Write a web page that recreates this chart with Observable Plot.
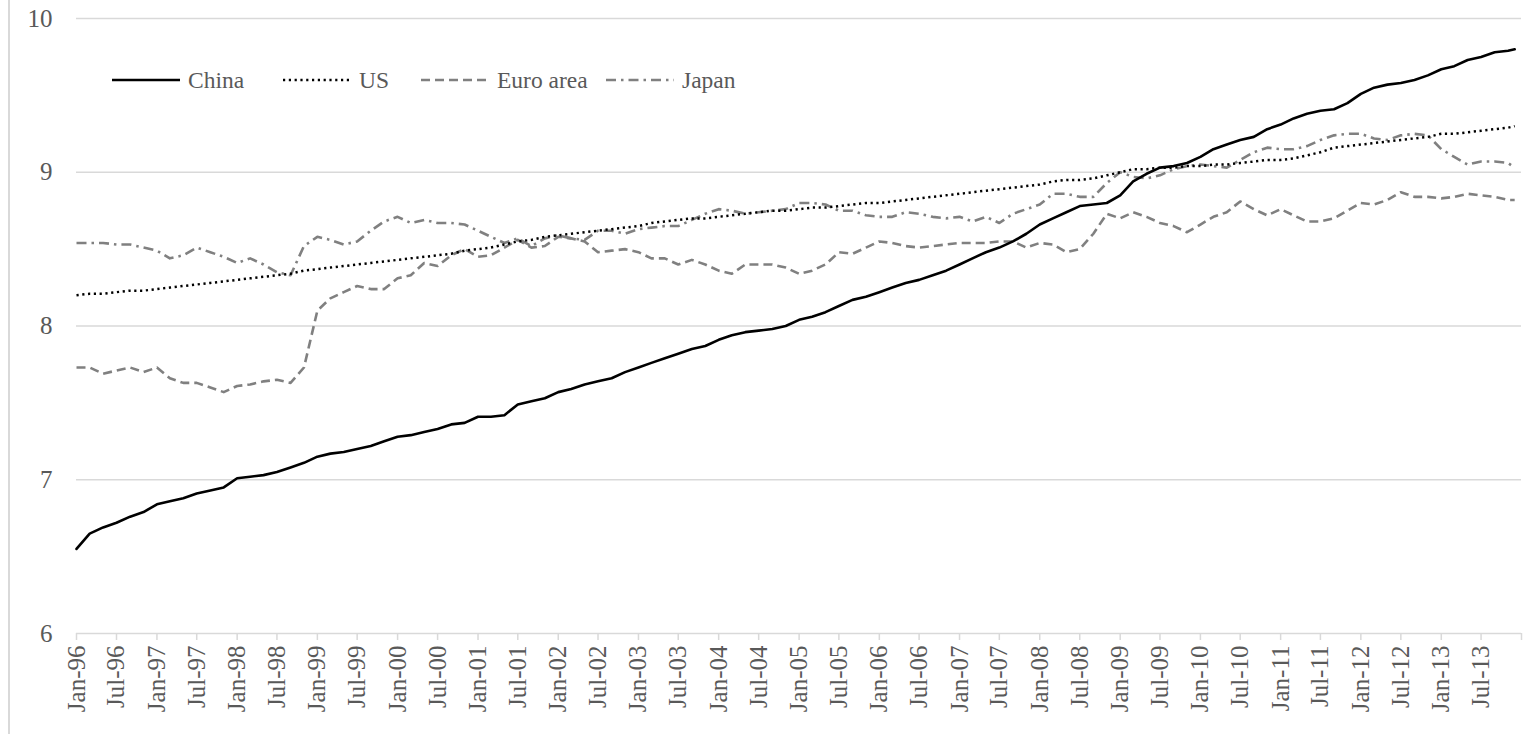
<!DOCTYPE html>
<html><head><meta charset="utf-8">
<script src="https://cdn.jsdelivr.net/npm/d3@7"></script>
<script src="https://cdn.jsdelivr.net/npm/@observablehq/plot@0.6"></script>
<style>
html,body{margin:0;padding:0;background:#fff;}
#wrap{position:relative;width:1528px;height:734px;overflow:hidden;font-family:"Liberation Serif","Times New Roman",serif;}
#border{position:absolute;left:8px;top:0;width:0;height:734px;border-left:2px solid #d9d9d9;}
.leg{position:absolute;top:67px;height:26px;display:flex;align-items:center;font-size:23.5px;color:#595959;white-space:nowrap;}
.leg svg{margin-right:8px;}
</style></head><body>
<div id="wrap"><div id="chart"></div><div id="border"></div><div id="legend"></div></div>
<script>
// Series names and styles
const seriesNames = ["China", "US", "Euro area", "Japan"];

// Bimonthly observations Jan-96, Mar-96, ..., Nov-13, then Dec-13
const china = [
  6.55,6.65,6.69,6.72,6.76,6.79,6.84,6.86,6.88,6.91,
  6.93,6.95,7.01,7.02,7.03,7.05,7.08,7.11,7.15,7.17,
  7.18,7.20,7.22,7.25,7.28,7.29,7.31,7.33,7.36,7.37,
  7.41,7.41,7.42,7.49,7.51,7.53,7.57,7.59,7.62,7.64,
  7.66,7.70,7.73,7.76,7.79,7.82,7.85,7.87,7.91,7.94,
  7.96,7.97,7.98,8.00,8.04,8.06,8.09,8.13,8.17,8.19,
  8.22,8.25,8.28,8.30,8.33,8.36,8.40,8.44,8.48,8.51,
  8.55,8.60,8.66,8.70,8.74,8.78,8.79,8.80,8.85,8.94,
  8.99,9.03,9.04,9.06,9.10,9.15,9.18,9.21,9.23,9.28,
  9.31,9.35,9.38,9.40,9.41,9.45,9.51,9.55,9.57,9.58,
  9.60,9.63,9.67,9.69,9.73,9.75,9.78,9.79,9.80
];
const us = [
  8.20,8.21,8.21,8.22,8.23,8.23,8.24,8.25,8.26,8.27,
  8.28,8.29,8.30,8.31,8.32,8.33,8.34,8.36,8.37,8.38,
  8.39,8.40,8.41,8.42,8.43,8.44,8.45,8.46,8.47,8.49,
  8.50,8.51,8.53,8.55,8.56,8.58,8.59,8.60,8.61,8.62,
  8.63,8.64,8.65,8.67,8.68,8.69,8.70,8.70,8.71,8.72,
  8.73,8.74,8.75,8.75,8.76,8.77,8.77,8.78,8.79,8.80,
  8.80,8.81,8.82,8.83,8.84,8.85,8.86,8.87,8.88,8.89,
  8.90,8.91,8.92,8.94,8.95,8.95,8.96,8.98,9.00,9.02,
  9.02,9.03,9.03,9.04,9.04,9.05,9.05,9.06,9.07,9.08,
  9.08,9.09,9.11,9.13,9.16,9.17,9.18,9.19,9.20,9.21,
  9.22,9.23,9.25,9.25,9.26,9.27,9.28,9.29,9.30
];
const euro = [
  7.73,7.73,7.69,7.71,7.73,7.70,7.73,7.66,7.63,7.63,
  7.60,7.57,7.61,7.62,7.64,7.65,7.63,7.73,8.10,8.18,
  8.22,8.26,8.24,8.24,8.31,8.33,8.41,8.39,8.46,8.50,
  8.45,8.46,8.51,8.56,8.51,8.52,8.58,8.57,8.55,8.48,
  8.49,8.50,8.48,8.44,8.44,8.40,8.43,8.40,8.36,8.34,
  8.40,8.40,8.40,8.38,8.34,8.36,8.40,8.48,8.47,8.51,
  8.55,8.54,8.52,8.51,8.52,8.53,8.54,8.54,8.54,8.55,
  8.55,8.51,8.54,8.53,8.48,8.50,8.60,8.73,8.70,8.74,
  8.71,8.67,8.65,8.61,8.66,8.71,8.74,8.81,8.76,8.72,
  8.76,8.72,8.68,8.68,8.70,8.75,8.80,8.79,8.82,8.87,
  8.84,8.84,8.83,8.84,8.86,8.85,8.84,8.82,8.82
];
const japan = [
  8.54,8.54,8.54,8.53,8.53,8.51,8.49,8.44,8.46,8.51,
  8.48,8.45,8.41,8.44,8.40,8.35,8.33,8.52,8.58,8.56,
  8.53,8.55,8.62,8.68,8.71,8.67,8.69,8.67,8.67,8.66,
  8.62,8.58,8.54,8.57,8.52,8.57,8.59,8.57,8.56,8.62,
  8.62,8.60,8.63,8.64,8.65,8.65,8.69,8.73,8.76,8.75,
  8.73,8.74,8.75,8.76,8.80,8.80,8.79,8.75,8.75,8.72,
  8.71,8.71,8.74,8.73,8.71,8.70,8.71,8.68,8.71,8.67,
  8.73,8.76,8.79,8.86,8.86,8.84,8.84,8.93,9.00,8.97,
  8.96,8.98,9.02,9.04,9.05,9.04,9.03,9.08,9.13,9.16,
  9.15,9.15,9.17,9.21,9.24,9.25,9.25,9.22,9.21,9.24,
  9.25,9.24,9.15,9.10,9.05,9.07,9.07,9.06,9.03
];

const tickLabels = [
  "Jan-96","Jul-96","Jan-97","Jul-97","Jan-98","Jul-98","Jan-99","Jul-99",
  "Jan-00","Jul-00","Jan-01","Jul-01","Jan-02","Jul-02","Jan-03","Jul-03",
  "Jan-04","Jul-04","Jan-05","Jul-05","Jan-06","Jul-06","Jan-07","Jul-07",
  "Jan-08","Jul-08","Jan-09","Jul-09","Jan-10","Jul-10","Jan-11","Jul-11",
  "Jan-12","Jul-12","Jan-13","Jul-13"
];
const yTicks = [6, 7, 8, 9, 10];

const parse = d3.utcParse("%b-%y");
const start = parse("Jan-96");
const end = parse("Jan-14");
const dates = d3.utcMonth.every(2).range(start, end);
dates.push(parse("Dec-13"));

const table = dates.map((d, i) => ({date: d, China: china[i], US: us[i], Euro: euro[i], Japan: japan[i]}));

const tickDates = tickLabels.map(parse).concat([end]);
const labelOf = new Map(tickLabels.map(l => [+parse(l), l]));

const styles = {
  China: {stroke: "#000000", strokeWidth: 2.6, dash: null},
  US: {stroke: "#000000", strokeWidth: 2.5, dash: "2.2 3.6"},
  Euro: {stroke: "#808080", strokeWidth: 2.6, dash: "9 5"},
  Japan: {stroke: "#808080", strokeWidth: 2.6, dash: "10 5 2.5 5"}
};

const grey = "#595959";
const chart = Plot.plot({
  width: 1528,
  height: 734,
  marginLeft: 76,
  marginRight: 7,
  marginTop: 18,
  marginBottom: 101,
  style: {fontFamily: "'Liberation Serif','Times New Roman',serif", fontSize: "25px", background: "#fff", color: grey},
  x: {type: "utc", domain: [start, end], axis: null},
  y: {domain: [6, 10], axis: null},
  marks: [
    Plot.ruleY(yTicks, {stroke: "#d9d9d9", strokeWidth: 1.5}),
    Plot.axisY(yTicks, {tickSize: 0, tickPadding: 24, fill: grey, fontSize: 25, tickFormat: d => String(d)}),
    Plot.axisX(tickDates, {tickSize: 7, tickPadding: 5, stroke: "#d9d9d9", strokeWidth: 1.5, fill: grey, fontSize: 25, tickRotate: -90, tickFormat: d => labelOf.get(+d) ?? ""}),
    ...["Euro", "Japan", "US", "China"].map(k => Plot.lineY(table, {
      x: "date", y: k, stroke: styles[k].stroke, strokeWidth: styles[k].strokeWidth,
      strokeDasharray: styles[k].dash, strokeLinejoin: "round", strokeLinecap: styles[k].dash ? "butt" : "round"
    }))
  ]
});
document.getElementById("chart").appendChild(chart);

// Legend
const legendKeys = ["China", "US", "Euro", "Japan"];
const legendLeft = [112, 283, 421, 606];
const legend = document.getElementById("legend");
legendKeys.forEach((k, i) => {
  const s = styles[k];
  const item = document.createElement("div");
  item.className = "leg";
  item.style.left = legendLeft[i] + "px";
  item.innerHTML = `<svg width="68" height="10"><line x1="0" y1="5" x2="68" y2="5" stroke="${s.stroke}" stroke-width="${s.strokeWidth}" ${s.dash ? `stroke-dasharray="${s.dash}"` : ""}/></svg><span>${seriesNames[i]}</span>`;
  legend.appendChild(item);
});
</script>
</body></html>
